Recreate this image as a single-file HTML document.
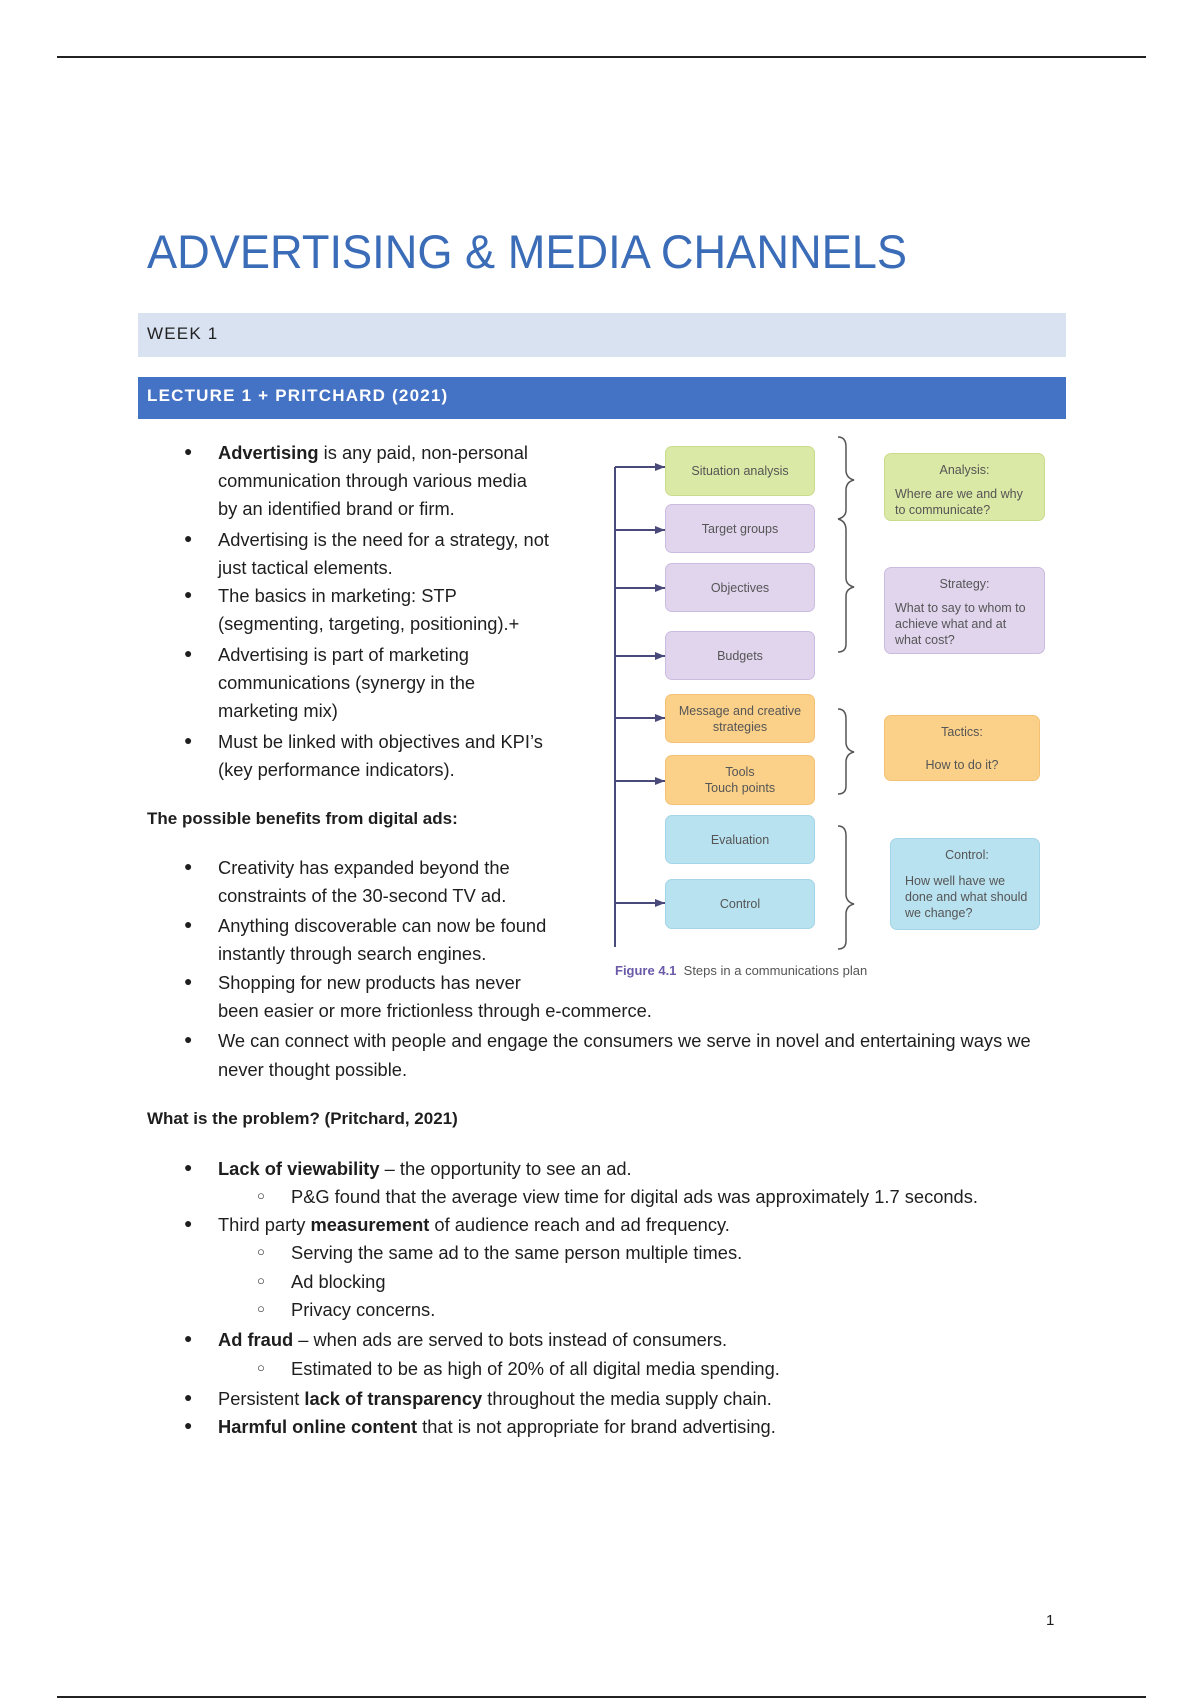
<!DOCTYPE html>
<html><head><meta charset="utf-8"><style>
body{margin:0;width:1200px;height:1700px;position:relative;background:#fff;font-family:"Liberation Sans",sans-serif;color:#1e1e1e;overflow:hidden}
.l{position:absolute;font-size:18.3px;white-space:nowrap;line-height:20px}
.b{position:absolute;font-size:14px;left:184px}
.s{position:absolute;font-size:13px;left:257px}
.bx{position:absolute;border-radius:7px;font-size:12.5px;color:#555;text-align:center;display:flex;align-items:center;justify-content:center;line-height:16px;box-sizing:border-box}
.g{background:#dbe9a6;border:1.5px solid #c9dc8c}
.p{background:#e1d5ee;border:1.5px solid #cbbbe0}
.o{background:#fbd18a;border:1.5px solid #f3c173}
.c{background:#b9e2f0;border:1.5px solid #a3d5e8}
.r{display:block;text-align:left;padding:8px 10px}
</style></head><body>
<div style="position:absolute;left:57px;top:56px;width:1089px;height:2px;background:#222"></div>
<div style="position:absolute;left:57px;top:1696px;width:1089px;height:2px;background:#222"></div>
<svg style="position:absolute;left:0;top:0" width="1200" height="300"><text x="147" y="268" font-size="47" fill="#3b6cb8" textLength="760" lengthAdjust="spacingAndGlyphs" font-family="Liberation Sans">ADVERTISING &amp; MEDIA CHANNELS</text></svg>
<div style="position:absolute;left:138px;top:313px;width:928px;height:44px;background:#d9e2f1"></div>
<div class="l" style="left:147px;top:324px;font-size:17px;letter-spacing:1.2px;color:#222">WEEK 1</div>
<div style="position:absolute;left:138px;top:377px;width:928px;height:42px;background:#4472c4"></div>
<div class="l" style="left:147px;top:386px;font-size:17px;letter-spacing:1.2px;color:#fff;font-weight:bold">LECTURE 1 + PRITCHARD (2021)</div>

<div class="b" style="top:443px">●</div><div class="l" style="left:218px;top:443px"><b>Advertising</b> is any paid, non-personal</div>
<div class="l" style="left:218px;top:471px">communication through various media</div>
<div class="l" style="left:218px;top:499px">by an identified brand or firm.</div>
<div class="b" style="top:530px">●</div><div class="l" style="left:218px;top:530px">Advertising is the need for a strategy, not</div>
<div class="l" style="left:218px;top:558px">just tactical elements.</div>
<div class="b" style="top:586px">●</div><div class="l" style="left:218px;top:586px">The basics in marketing: STP</div>
<div class="l" style="left:218px;top:614px">(segmenting, targeting, positioning).+</div>
<div class="b" style="top:645px">●</div><div class="l" style="left:218px;top:645px">Advertising is part of marketing</div>
<div class="l" style="left:218px;top:673px">communications (synergy in the</div>
<div class="l" style="left:218px;top:701px">marketing mix)</div>
<div class="b" style="top:732px">●</div><div class="l" style="left:218px;top:732px">Must be linked with objectives and KPI’s</div>
<div class="l" style="left:218px;top:760px">(key performance indicators).</div>
<div class="l" style="left:147px;top:809px;font-weight:bold;font-size:17px">The possible benefits from digital ads:</div>
<div class="b" style="top:858px">●</div><div class="l" style="left:218px;top:858px">Creativity has expanded beyond the</div>
<div class="l" style="left:218px;top:886px">constraints of the 30-second TV ad.</div>
<div class="b" style="top:916px">●</div><div class="l" style="left:218px;top:916px">Anything discoverable can now be found</div>
<div class="l" style="left:218px;top:944px">instantly through search engines.</div>
<div class="b" style="top:973px">●</div><div class="l" style="left:218px;top:973px">Shopping for new products has never</div>
<div class="l" style="left:218px;top:1001px">been easier or more frictionless through e-commerce.</div>
<div class="b" style="top:1031px">●</div><div class="l" style="left:218px;top:1031px">We can connect with people and engage the consumers we serve in novel and entertaining ways we</div>
<div class="l" style="left:218px;top:1060px">never thought possible.</div>
<div class="l" style="left:147px;top:1109px;font-weight:bold;font-size:17px">What is the problem? (Pritchard, 2021)</div>
<div class="b" style="top:1159px">●</div><div class="l" style="left:218px;top:1159px"><b>Lack of viewability</b> – the opportunity to see an ad.</div>
<div class="s" style="top:1188px">○</div><div class="l" style="left:291px;top:1187px">P&amp;G found that the average view time for digital ads was approximately 1.7 seconds.</div>
<div class="b" style="top:1215px">●</div><div class="l" style="left:218px;top:1215px">Third party <b>measurement</b> of audience reach and ad frequency.</div>
<div class="s" style="top:1244px">○</div><div class="l" style="left:291px;top:1243px">Serving the same ad to the same person multiple times.</div>
<div class="s" style="top:1273px">○</div><div class="l" style="left:291px;top:1272px">Ad blocking</div>
<div class="s" style="top:1301px">○</div><div class="l" style="left:291px;top:1300px">Privacy concerns.</div>
<div class="b" style="top:1330px">●</div><div class="l" style="left:218px;top:1330px"><b>Ad fraud</b> – when ads are served to bots instead of consumers.</div>
<div class="s" style="top:1360px">○</div><div class="l" style="left:291px;top:1359px">Estimated to be as high of 20% of all digital media spending.</div>
<div class="b" style="top:1389px">●</div><div class="l" style="left:218px;top:1389px">Persistent <b>lack of transparency</b> throughout the media supply chain.</div>
<div class="b" style="top:1417px">●</div><div class="l" style="left:218px;top:1417px"><b>Harmful online content</b> that is not appropriate for brand advertising.</div>
<div class="l" style="left:1046px;top:1611px;font-size:15px">1</div>

<svg style="position:absolute;left:0;top:0" width="1200" height="1000">
<defs><marker id="a" markerUnits="userSpaceOnUse" markerWidth="10" markerHeight="8" refX="10" refY="4" orient="auto"><path d="M0,0 L10,4 L0,8z" fill="#4a4a7a"/></marker></defs>
<g stroke="#4a4a7a" stroke-width="2" fill="none">
<line x1="615" y1="467" x2="615" y2="947"/>
<line x1="615" y1="467" x2="665" y2="467" marker-end="url(#a)"/>
<line x1="615" y1="530" x2="665" y2="530" marker-end="url(#a)"/>
<line x1="615" y1="588" x2="665" y2="588" marker-end="url(#a)"/>
<line x1="615" y1="656" x2="665" y2="656" marker-end="url(#a)"/>
<line x1="615" y1="718" x2="665" y2="718" marker-end="url(#a)"/>
<line x1="615" y1="781" x2="665" y2="781" marker-end="url(#a)"/>
<line x1="615" y1="903" x2="665" y2="903" marker-end="url(#a)"/>
</g>
<g stroke="#555" stroke-width="1.5" fill="none">
<path d="M838,437 Q846,437 846,447 L846,470 Q846,478 854,480 Q846,482 846,490 L846,510 Q846,517 838,519"/>
<path d="M838,519 Q846,521 846,530 L846,578 Q846,585 854,587 Q846,589 846,596 L846,644 Q846,652 838,652"/>
<path d="M838,709 Q846,709 846,719 L846,742 Q846,750 854,752 Q846,754 846,762 L846,786 Q846,794 838,794"/>
<path d="M838,826 Q846,826 846,836 L846,894 Q846,902 854,904 Q846,906 846,914 L846,941 Q846,949 838,949"/>
</g>
</svg>
<div class="bx g" style="left:665px;top:446px;width:150px;height:50px">Situation analysis</div>
<div class="bx p" style="left:665px;top:504px;width:150px;height:49px">Target groups</div>
<div class="bx p" style="left:665px;top:563px;width:150px;height:49px">Objectives</div>
<div class="bx p" style="left:665px;top:631px;width:150px;height:49px">Budgets</div>
<div class="bx o" style="left:665px;top:694px;width:150px;height:49px">Message and creative<br>strategies</div>
<div class="bx o" style="left:665px;top:755px;width:150px;height:50px">Tools<br>Touch points</div>
<div class="bx c" style="left:665px;top:815px;width:150px;height:49px">Evaluation</div>
<div class="bx c" style="left:665px;top:879px;width:150px;height:50px">Control</div>
<div class="bx g r" style="left:884px;top:453px;width:161px;height:68px"><div style="text-align:center">Analysis:</div><div style="margin-top:8px">Where are we and why to communicate?</div></div>
<div class="bx p r" style="left:884px;top:567px;width:161px;height:87px"><div style="text-align:center">Strategy:</div><div style="margin-top:8px">What to say to whom to achieve what and at what cost?</div></div>
<div class="bx o r" style="left:884px;top:715px;width:156px;height:66px"><div style="text-align:center">Tactics:</div><div style="margin-top:17px;text-align:center">How to do it?</div></div>
<div class="bx c r" style="left:890px;top:838px;width:150px;height:92px;padding-left:14px"><div style="text-align:center">Control:</div><div style="margin-top:10px">How well have we done and what should we change?</div></div>
<div class="l" style="left:615px;top:961px;font-size:13px;color:#555"><b style="color:#6a5aa8">Figure 4.1</b>&nbsp; Steps in a communications plan</div>
</body></html>
